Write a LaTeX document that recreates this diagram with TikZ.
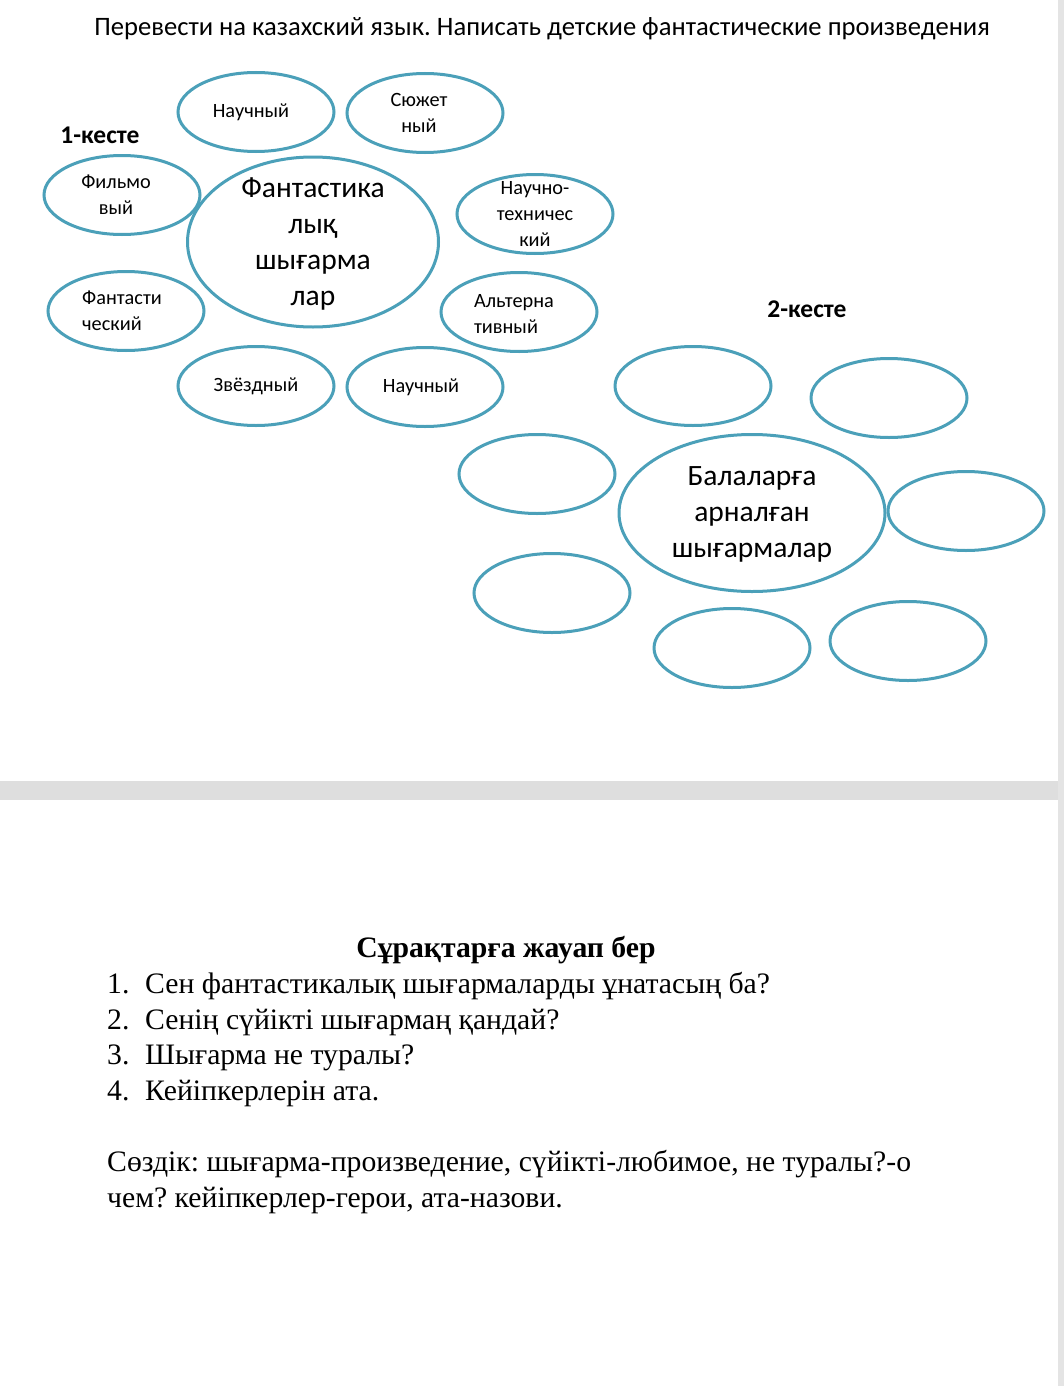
\documentclass[tikz,border=0pt]{standalone}
\usepackage{fontspec}
\setmainfont{Carlito}
\newfontfamily\timesfont{Liberation Serif}
\frenchspacing
\usetikzlibrary{shapes.geometric, positioning}
\definecolor{ringblue}{RGB}{75,160,185}
\definecolor{pagegray}{RGB}{222,222,222}

\begin{document}
\begin{tikzpicture}[x=1pt, y=-1pt,
    bubble/.style={ellipse, draw=ringblue, line width=3pt, minimum width=156pt, minimum height=79pt, inner sep=0pt},
    hub/.style={bubble, minimum width=251pt, minimum height=170pt},
    bubtext/.style={font=\fontsize{20.3}{26}\selectfont, align=center, inner sep=0pt},
    hubtext/.style={font=\fontsize{29.5}{36}\selectfont, align=center, inner sep=0pt},
    heading/.style={font=\fontsize{25.5}{28}\selectfont\bfseries, inner sep=0pt},
    serif/.style={font=\timesfont\fontsize{29.7}{35}\selectfont, anchor=base west, inner sep=0pt}]
    \useasboundingbox (0,0) rectangle (1064,1386);
    \fill[white] (0,0) rectangle (1064,1386);

    % page edges
    \fill[pagegray] (0,781) rectangle (1064,800);
    \fill[pagegray!80] (1058,0) rectangle (1064,1386);

    % task line
    \node[font=\fontsize{26.6}{30}\selectfont, inner sep=0pt] (task) at (542,29)
        {Перевести на казахский язык. Написать детские фантастические произведения};

    % table 1
    \node[heading] (tab1) at (100,135) {1-кесте};
    \node[hub] (fant) at (313,242) {};
    \node[hubtext] (fanttxt) at (313,244) {Фантастика\\лық\\шығарма\\лар};
    \foreach \n/\x/\y/\dx/\txt in {nauchA/256/112/-5/Научный, syuzh/425/113/-6/{Сюжет\\ный},
        film/122/195/-6/{Фильмо\\вый}, tech/535/214/0/{Научно-\\техничес\\кий},
        zvezd/256/386/0/Звёздный, nauchB/425/387/-4/Научный} {
        \node[bubble] (\n) at (\x,\y) {};
        \node[bubtext] (\n txt) at ([xshift=\dx pt]\n) {\txt};
    }
    \node[bubble] (fantic) at (126,311) {};
    \node[bubtext, align=left] (fantictxt) at ([xshift=-4pt]fantic) {Фантасти\\ческий};
    \node[bubble] (alter) at (519,312) {};
    \node[bubtext, align=left] (altertxt) at ([xshift=-5pt, yshift=-2pt]alter) {Альтерна\\тивный};

    % table 2
    \node[heading] (tab2) at (807,309) {2-кесте};
    \node[hub, minimum width=266pt, minimum height=157pt] (child) at (752,513) {};
    \node[hubtext] (childtxt) at (752,514) {Балаларға\\арналған\\шығармалар};
    \foreach \n/\x/\y in {eA/693/386, eB/889/398, eC/537/474, eD/966/511,
        eE/552/593, eF/732/648, eG/908/641}
        \node[bubble] (\n) at (\x,\y) {};

    % questions
    \node[font=\timesfont\fontsize{29.7}{35}\selectfont\bfseries, anchor=base, inner sep=0pt] (qhead) at (506,957)
        {Сұрақтарға жауап бер};
    \foreach \i/\y/\txt in {1/993/{Сен фантастикалық шығармаларды ұнатасың ба?},
        2/1029/{Сенің сүйікті шығармаң қандай?},
        3/1064/{Шығарма не туралы?},
        4/1100/{Кейіпкерлерін ата.}} {
        \node[serif] (num\i) at (107,\y) {\i.};
        \node[serif] (q\i) at (145,\y) {\txt};
    }
    \node[serif] (dict1) at (107,1171) {Сөздік: шығарма-произведение, сүйікті-любимое, не туралы?-о};
    \node[serif] (dict2) at (107,1207) {чем? кейіпкерлер-герои, ата-назови.};
\end{tikzpicture}
\end{document}
